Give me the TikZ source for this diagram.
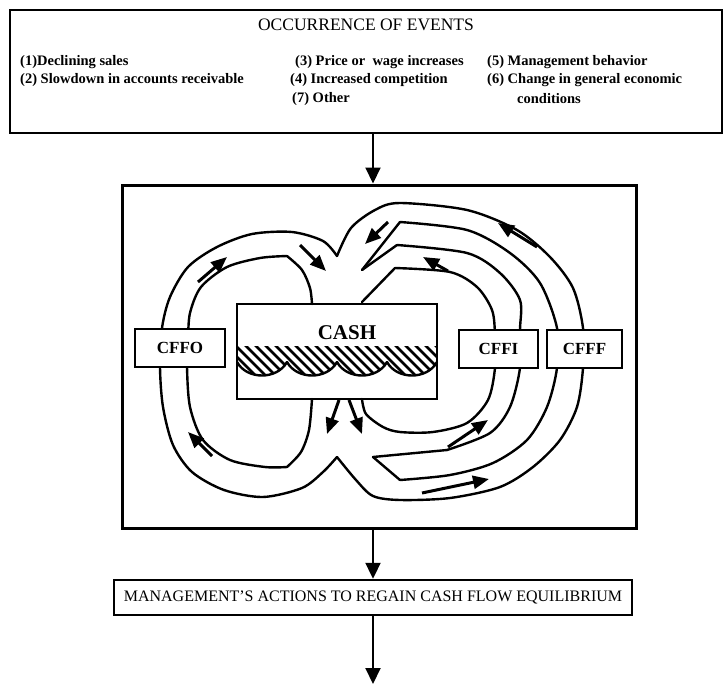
\documentclass[tikz,border=0pt]{standalone}
\usepackage{fontspec}
\setmainfont{Liberation Serif}
\usetikzlibrary{arrows.meta}
\tikzset{
  frame/.style={draw, line width=2.4pt, inner sep=0pt},
  item/.style={anchor=west, inner sep=0pt, font=\bfseries\fontsize{14.5}{18}\selectfont},
  wall/.style={line width=2.4pt, line cap=round, line join=round},
  flow/.style={line width=3pt, -{Triangle[length=16pt, width=13pt]}},
  link/.style={line width=2pt, -{Triangle[length=16pt, width=15pt]}},
  hatch/.style={line width=2.6pt},
  flowbox/.style={draw, fill=white, line width=2pt, minimum height=38pt, inner sep=0pt,
    font=\bfseries\fontsize{17}{17}\selectfont}
}

\begin{document}
\begin{tikzpicture}[x=1pt, y=-1pt]
  \useasboundingbox (0,0) rectangle (724,686);

  % occurrence of events
  \node [frame, minimum width=712pt, minimum height=123pt] (events) at (366,71.5) {};
  \node [inner sep=0pt, font=\fontsize{17.5}{17.5}\selectfont] (evtitle) at (366,25) {OCCURRENCE OF EVENTS};
  \node [item] (ev1) at (20,62) {(1)Declining sales};
  \node [item] (ev2) at (20,80) {(2) Slowdown in accounts receivable};
  \node [item] (ev3) at (295,62) {(3) Price or~ wage increases};
  \node [item] (ev4) at (290,80) {(4) Increased competition};
  \node [item] (ev7) at (292,99) {(7) Other};
  \node [item] (ev5) at (487,62) {(5) Management behavior};
  \node [item] (ev6) at (487,80) {(6) Change in general economic};
  \node [item] (ev6b) at (517,99) {conditions};

  % cash flow frame
  \node [frame, line width=3pt, minimum width=514pt, minimum height=343pt] (loopframe) at (379,356.5) {};

  % outer walls
  \draw [wall] plot [smooth] coordinates {(337,256) (323,241) (292,232) (252,234) (217,247)
    (188,267) (170,297) (162,328) (160,367) (163,407) (173,445) (192,472) (224,490)
    (263,497) (302,488) (323,472) (337,457)};
  \draw [wall] plot [smooth] coordinates {(337,256) (351,228) (375,210) (400,203) (467,210)
    (517,230) (550,257) (573,288) (583,328) (583,368) (577,407) (560,440) (533,467)
    (500,487) (450,498) (400,500) (373,496) (356,480) (337,457)};

  % operating inner wall
  \draw [wall] plot [smooth] coordinates {(312,304) (310,288) (302,270) (287,256)};
  \draw [wall] plot [smooth] coordinates {(287,256) (260,258) (227,267) (201,287) (190,313)
    (188,340) (187,367) (190,407) (203,440) (230,460) (265,467) (287,467)};
  \draw [wall] plot [smooth] coordinates {(287,467) (301,452) (309,430) (312,399)};

  % financing / investing divider
  \draw [wall] (362,270) -- (400,222);
  \draw [wall] plot [smooth] coordinates {(400,222) (467,230) (510,253) (540,283) (557,328)
    (557,368) (547,407) (527,440) (493,463) (450,475) (400,480)};
  \draw [wall] (400,480) -- (373,457);
  \draw [wall] (362,270) -- (397,245);
  \draw [wall] plot [smooth] coordinates {(397,245) (467,253) (500,273) (520,300) (520,330)
    (520,368) (510,407) (490,433) (447,450)};
  \draw [wall] (447,450) -- (373,457);

  % investing inner wall
  \draw [wall] (362,302) -- (395,268);
  \draw [wall] plot [smooth] coordinates {(395,268) (450,272) (477,287) (492,310) (495,335)
    (495,368) (488,400) (467,423) (433,432) (400,432) (383,427) (366,414) (362,399)};

  % flows
  \draw [flow] (198,282) -- (227,257);
  \draw [flow] (300,245) -- (326,271);
  \draw [flow] (212,456) -- (188,432);
  \draw [flow] (339,400) -- (327,434);
  \draw [flow] (349,400) -- (362,434);
  \draw [flow] (388,222) -- (365,244);
  \draw [flow] (537,247) -- (498,223);
  \draw [flow] (448,271) -- (423,257);
  \draw [flow] (448,447) -- (488,420);
  \draw [flow] (422,493) -- (489,479);

  % cash
  \begin{scope}
    \clip (237,346) -- (437,346) -- (437,362)
      .. controls (427,380) and (397,380) .. (387,362)
      .. controls (377,380) and (347,380) .. (337,362)
      .. controls (327,380) and (297,380) .. (287,362)
      .. controls (277,380) and (247,380) .. (237,362) -- cycle;
    \foreach \x in {190,200,...,440}
      \draw [hatch] (\x,340) -- ++(40,40);
  \end{scope}
  \foreach \x in {237,287,337,387}
    \draw [wall] (\x,362) .. controls (\x+10,380) and (\x+40,380) .. (\x+50,362);
  \node [draw, line width=2.4pt, minimum width=200pt, minimum height=95pt] (cash) at (337,351.5) {};
  \node [inner sep=0pt, font=\bfseries\fontsize{21}{21}\selectfont] (cashlabel) at (347,333) {CASH};

  % flow labels
  \node [flowbox, minimum width=90pt] (cffo) at (180,348) {CFFO};
  \node [flowbox, minimum width=79pt] (cffi) at (498.5,349) {CFFI};
  \node [flowbox, minimum width=75pt] (cfff) at (584.5,349) {CFFF};

  % management's actions
  \node [frame, minimum height=35pt, inner xsep=10pt, font=\fontsize{16}{16}\selectfont] (actions)
    at (373,597.5) {MANAGEMENT'S ACTIONS TO REGAIN CASH FLOW EQUILIBRIUM};
  \coordinate (out) at (373,684);

  % links
  \draw [link] (events.south -| actions.north) -- (loopframe.north -| actions.north);
  \draw [link] (loopframe.south -| actions.north) -- (actions.north);
  \draw [link] (actions.south) -- (out);
\end{tikzpicture}
\end{document}
